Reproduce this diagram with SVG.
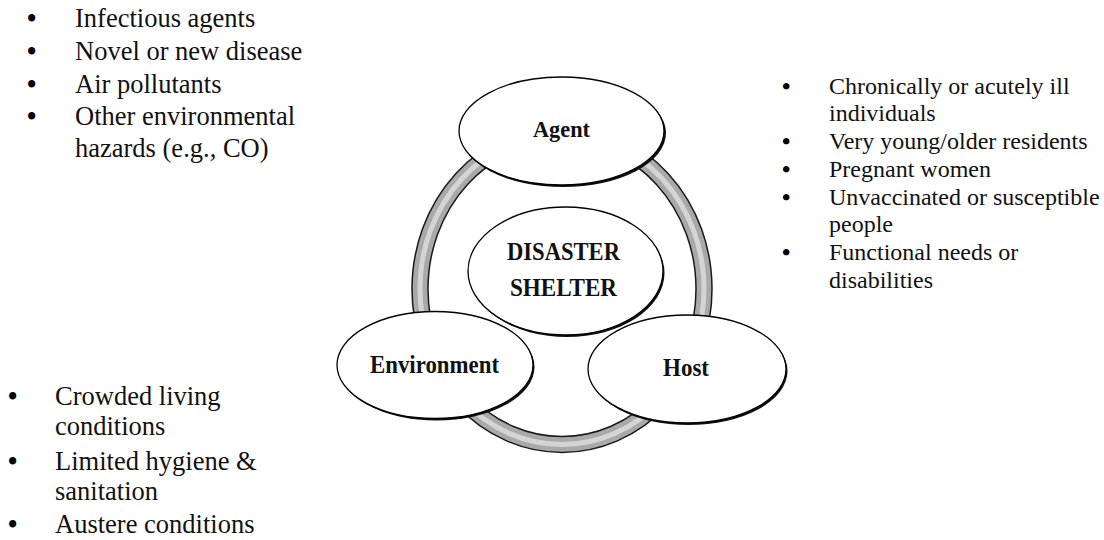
<svg xmlns="http://www.w3.org/2000/svg" width="1104" height="540" viewBox="0 0 1104 540">
<style>
.lst{font-family:"Liberation Serif","Times New Roman",serif;fill:#111}
.l26{font-size:26.5px}
.l24{font-size:24px}
.bul{font-weight:bold;fill:#000}
.lbl{font-family:"Liberation Serif","Times New Roman",serif;font-weight:bold;font-size:24px;fill:#111;text-anchor:middle}
.shadow{fill:#111}
.node{fill:#fff;stroke:#000;stroke-width:1.3}
</style>
<rect width="1104" height="540" fill="#fff"/>
<g id="connectors">
  <ellipse cx="562" cy="289" rx="142" ry="155.5" fill="none" stroke="#1a1a1a" stroke-width="17.5"/>
  <ellipse cx="562" cy="289" rx="142" ry="155.5" fill="none" stroke="#a9a9a9" stroke-width="14.5"/>
  <ellipse cx="562" cy="289" rx="142" ry="155.5" fill="none" stroke="#d4d4d4" stroke-width="5"/>
</g>
<g id="node-agent">
  <ellipse class="shadow" cx="563" cy="133" rx="103" ry="54"/>
  <ellipse class="node" cx="561.5" cy="131" rx="102.5" ry="54"/>
  <text class="lbl" x="561.5" y="137" textLength="57" lengthAdjust="spacingAndGlyphs">Agent</text>
</g>
<g id="node-shelter">
  <ellipse class="shadow" cx="567" cy="273" rx="97.5" ry="64"/>
  <ellipse class="node" cx="565.5" cy="271" rx="97.5" ry="64"/>
  <text class="lbl" x="563.5" y="260" textLength="113" lengthAdjust="spacingAndGlyphs" style="font-size:26px">DISASTER</text>
  <text class="lbl" x="563.5" y="296" textLength="107" lengthAdjust="spacingAndGlyphs" style="font-size:26px">SHELTER</text>
</g>
<g id="node-environment">
  <ellipse class="shadow" cx="436.5" cy="367" rx="98" ry="53.5"/>
  <ellipse class="node" cx="435" cy="365" rx="98" ry="53.5"/>
  <text class="lbl" x="434.5" y="373" textLength="129" lengthAdjust="spacingAndGlyphs" style="font-size:25px">Environment</text>
</g>
<g id="node-host">
  <ellipse class="shadow" cx="688.5" cy="371" rx="99" ry="54"/>
  <ellipse class="node" cx="687" cy="369" rx="99" ry="54"/>
  <text class="lbl" x="686" y="376" textLength="46" lengthAdjust="spacingAndGlyphs" style="font-size:25px">Host</text>
</g>
<g id="list-agent" class="lst l26">
  <text class="bul" x="27" y="27">•</text><text x="75" y="27">Infectious agents</text>
  <text class="bul" x="27" y="60">•</text><text x="75" y="60">Novel or new disease</text>
  <text class="bul" x="27" y="93">•</text><text x="75" y="93">Air pollutants</text>
  <text class="bul" x="27" y="125">•</text><text x="75" y="125">Other environmental</text>
  <text x="75" y="157">hazards (e.g., CO)</text>
</g>
<g id="list-environment" class="lst l26">
  <text class="bul" x="8" y="405">•</text><text x="55" y="405">Crowded living</text>
  <text x="55" y="435">conditions</text>
  <text class="bul" x="8" y="470">•</text><text x="55" y="470">Limited hygiene &amp;</text>
  <text x="55" y="500">sanitation</text>
  <text class="bul" x="8" y="533">•</text><text x="55" y="533">Austere conditions</text>
</g>
<g id="list-host" class="lst l24">
  <text class="bul" x="782" y="94">•</text><text x="829" y="94">Chronically or acutely ill</text>
  <text x="829" y="121">individuals</text>
  <text class="bul" x="782" y="149">•</text><text x="829" y="149">Very young/older residents</text>
  <text class="bul" x="782" y="177">•</text><text x="829" y="177">Pregnant women</text>
  <text class="bul" x="782" y="205">•</text><text x="829" y="205">Unvaccinated or susceptible</text>
  <text x="829" y="232">people</text>
  <text class="bul" x="782" y="260">•</text><text x="829" y="260">Functional needs or</text>
  <text x="829" y="288">disabilities</text>
</g>
</svg>
